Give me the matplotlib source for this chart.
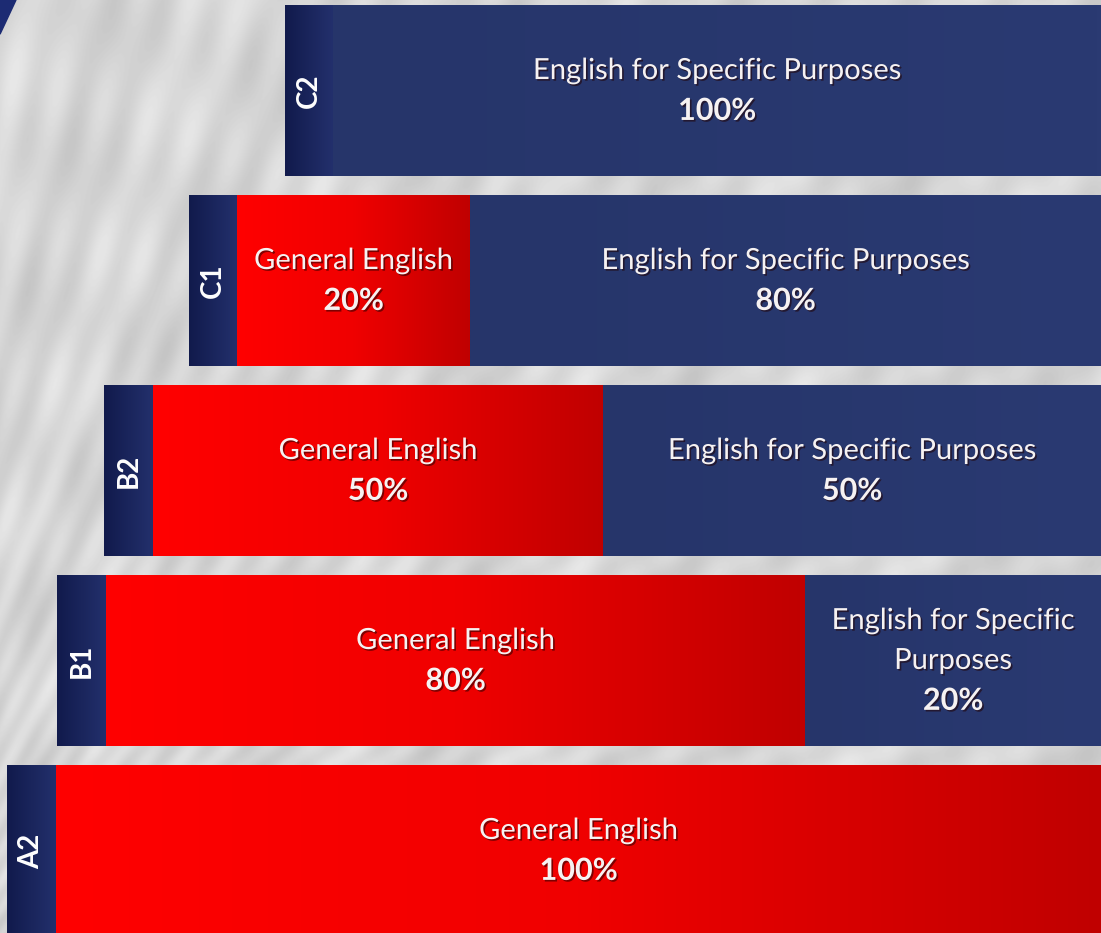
import numpy as np
import matplotlib
matplotlib.use("Agg")
import matplotlib.pyplot as plt
from matplotlib import patheffects
from matplotlib.colors import LinearSegmentedColormap
from matplotlib.patches import Polygon

plt.rcParams["font.family"] = ["Lato", "DejaVu Sans"]

# levels from bottom to top
levels = ["A2", "B1", "B2", "C1", "C2"]
general_pct = [100, 80, 50, 20, 0]
specific_pct = [0, 20, 50, 80, 100]
general_name = ["General English"] * 5
specific_name = [
    "English for Specific Purposes",
    "English for Specific\nPurposes",
    "English for Specific Purposes",
    "English for Specific Purposes",
    "English for Specific Purposes",
]
# drawn lengths (the diagram is not to scale)
bar_start = [7, 57, 104, 189, 285]
level_len = [49, 49, 49, 48, 48]
general_len = [1045, 699, 450, 233, 0]
specific_len = [0, 296, 498, 631, 768]

W, H = 1101, 933
fig = plt.figure(figsize=(W / 100, H / 100), dpi=100)
ax = fig.add_axes([0, 0, 1, 1])

y = np.arange(len(levels))
ylim = (-0.432, 4.479)
bar_h = 0.895

# background: light grey, fan-vault-like texture
yy, xx = np.mgrid[0:H, 0:W]
ang = np.arctan2(H + 300 - yy, xx + 250)
rad = np.hypot(H + 300 - yy, xx + 250)
bg = (0.84 + 0.025 * np.sin(ang * 160) + 0.02 * np.sin(ang * 47 + 1.3)
      + 0.015 * np.sin(rad / 23.0) + 0.01 * np.sin(xx / 7.0))
bg = np.clip(bg, 0, 1)
ax.imshow(bg, cmap="gray", vmin=0, vmax=1, extent=[0, W, ylim[0], ylim[1]],
          aspect="auto", zorder=0)

red_cmap = LinearSegmentedColormap.from_list("red", ["#ff0000", "#f00000", "#c00000"])
blue_cmap = LinearSegmentedColormap.from_list("blue", ["#26356a", "#2a3a72"])
strip_cmap = LinearSegmentedColormap.from_list("strip", ["#111a4c", "#23306c"])
grad = np.linspace(0, 1, 256).reshape(1, -1)

strips = ax.barh(y, level_len, left=bar_start, height=bar_h, color="none")
gen_left = [s + l for s, l in zip(bar_start, level_len)]
gens = ax.barh(y, general_len, left=gen_left, height=bar_h, color="none")
spec_left = [g + l for g, l in zip(gen_left, general_len)]
specs = ax.barh(y, specific_len, left=spec_left, height=bar_h, color="none")


def fill(bars, cmap):
    for p in bars.patches:
        if p.get_width() <= 0:
            continue
        x0, y0 = p.get_x(), p.get_y()
        ax.imshow(grad, cmap=cmap, extent=[x0, x0 + p.get_width(), y0, y0 + p.get_height()],
                  aspect="auto", zorder=2)


fill(strips, strip_cmap)
fill(gens, red_cmap)
fill(specs, blue_cmap)

shadow = [patheffects.withSimplePatchShadow(offset=(1.2, -1.2), shadow_rgbFace="#200000", alpha=0.55)]
txt = "#f6f2f2"
step = 0.21

for i in range(len(levels)):
    sp = strips.patches[i]
    ax.text(sp.get_x() + sp.get_width() / 2, y[i], levels[i], rotation=90,
            ha="center", va="center", color="white", fontsize=20, fontweight="bold",
            zorder=3)
    for bars, name, pct in ((gens, general_name, general_pct), (specs, specific_name, specific_pct)):
        p = bars.patches[i]
        if pct[i] == 0:
            continue
        cx = p.get_x() + p.get_width() / 2
        lines = name[i].split("\n") + [f"{pct[i]}%"]
        k = len(lines)
        for j, line in enumerate(lines):
            ty = y[i] + step * ((k - 1) / 2 - j)
            bold = j == k - 1
            ax.text(cx, ty, line, ha="center", va="center", color=txt,
                    fontsize=22 if bold else 21, fontweight="bold" if bold else "normal",
                    zorder=3, path_effects=shadow)

# navy corner wedge in the top-left
ax.add_patch(Polygon([[0, ylim[1]], [16, ylim[1]], [0, ylim[1] - 0.18]],
                     closed=True, color="#1c2b73", zorder=1))

ax.set_xlim(0, W)
ax.set_ylim(*ylim)
ax.axis("off")
fig.savefig("out.png", dpi=100)
